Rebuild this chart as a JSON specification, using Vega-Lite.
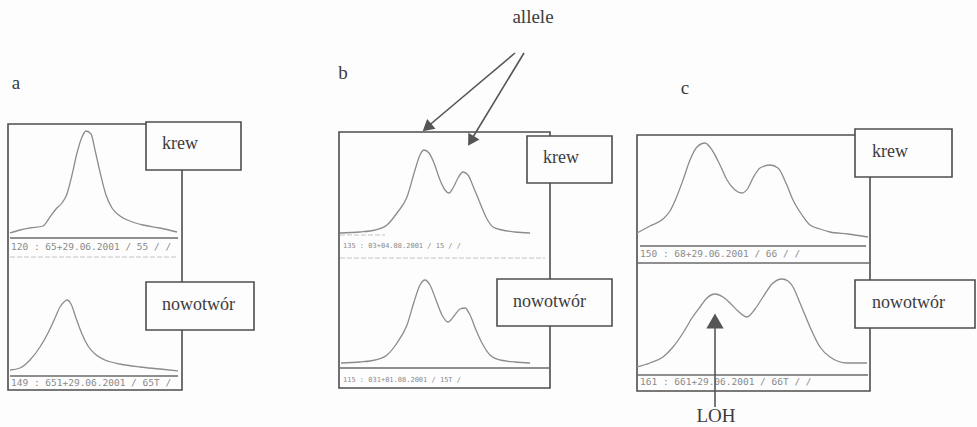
{
  "$schema": "https://vega.github.io/schema/vega-lite/v6.json",
  "width": 977,
  "height": 427,
  "autosize": {"type": "fit", "contains": "padding"},
  "padding": 0,
  "background": "#fdfdfd",
  "config": {"view": {"stroke": null}},
  "datasets": {
    "frames": [
      {"panel": "a", "x0": 8, "x1": 182, "y0": 124, "y1": 390},
      {"panel": "b", "x0": 339, "x1": 550, "y0": 132, "y1": 388},
      {"panel": "c", "x0": 637, "x1": 870, "y0": 135, "y1": 391}
    ],
    "rules": [
      {"x0": 10, "x1": 178, "y": 238},
      {"x0": 10, "x1": 178, "y": 376},
      {"x0": 340, "x1": 550, "y": 368},
      {"x0": 640, "x1": 866, "y": 246},
      {"x0": 637, "x1": 870, "y": 263},
      {"x0": 637, "x1": 868, "y": 375}
    ],
    "faintRules": [
      {"x0": 10, "x1": 178, "y": 257},
      {"x0": 340, "x1": 385, "y": 235},
      {"x0": 340, "x1": 545, "y": 258}
    ],
    "curves": [
      {"trace": "a1", "i": 1, "x": 10, "y": 233}, {"trace": "a1", "i": 2, "x": 20, "y": 230},
      {"trace": "a1", "i": 3, "x": 30, "y": 228}, {"trace": "a1", "i": 4, "x": 43, "y": 226},
      {"trace": "a1", "i": 5, "x": 50, "y": 217}, {"trace": "a1", "i": 6, "x": 56, "y": 209},
      {"trace": "a1", "i": 7, "x": 62, "y": 203}, {"trace": "a1", "i": 8, "x": 67, "y": 194},
      {"trace": "a1", "i": 9, "x": 72, "y": 175}, {"trace": "a1", "i": 10, "x": 77, "y": 153},
      {"trace": "a1", "i": 11, "x": 82, "y": 137}, {"trace": "a1", "i": 12, "x": 86, "y": 131},
      {"trace": "a1", "i": 13, "x": 91, "y": 134}, {"trace": "a1", "i": 14, "x": 95, "y": 150},
      {"trace": "a1", "i": 15, "x": 100, "y": 172}, {"trace": "a1", "i": 16, "x": 106, "y": 195},
      {"trace": "a1", "i": 17, "x": 112, "y": 208}, {"trace": "a1", "i": 18, "x": 120, "y": 216},
      {"trace": "a1", "i": 19, "x": 130, "y": 221}, {"trace": "a1", "i": 20, "x": 143, "y": 225},
      {"trace": "a1", "i": 21, "x": 160, "y": 228}, {"trace": "a1", "i": 22, "x": 177, "y": 232},

      {"trace": "a2", "i": 1, "x": 10, "y": 370}, {"trace": "a2", "i": 2, "x": 20, "y": 368},
      {"trace": "a2", "i": 3, "x": 30, "y": 360}, {"trace": "a2", "i": 4, "x": 40, "y": 347},
      {"trace": "a2", "i": 5, "x": 48, "y": 333}, {"trace": "a2", "i": 6, "x": 55, "y": 318},
      {"trace": "a2", "i": 7, "x": 60, "y": 307}, {"trace": "a2", "i": 8, "x": 64, "y": 302},
      {"trace": "a2", "i": 9, "x": 67, "y": 300}, {"trace": "a2", "i": 10, "x": 71, "y": 304},
      {"trace": "a2", "i": 11, "x": 76, "y": 318}, {"trace": "a2", "i": 12, "x": 82, "y": 334},
      {"trace": "a2", "i": 13, "x": 88, "y": 346}, {"trace": "a2", "i": 14, "x": 95, "y": 354},
      {"trace": "a2", "i": 15, "x": 105, "y": 360}, {"trace": "a2", "i": 16, "x": 120, "y": 364},
      {"trace": "a2", "i": 17, "x": 140, "y": 367}, {"trace": "a2", "i": 18, "x": 160, "y": 369},
      {"trace": "a2", "i": 19, "x": 178, "y": 371},

      {"trace": "b1", "i": 1, "x": 340, "y": 233}, {"trace": "b1", "i": 2, "x": 360, "y": 232},
      {"trace": "b1", "i": 3, "x": 375, "y": 230}, {"trace": "b1", "i": 4, "x": 387, "y": 225},
      {"trace": "b1", "i": 5, "x": 397, "y": 213}, {"trace": "b1", "i": 6, "x": 407, "y": 197},
      {"trace": "b1", "i": 7, "x": 415, "y": 170}, {"trace": "b1", "i": 8, "x": 420, "y": 155},
      {"trace": "b1", "i": 9, "x": 424, "y": 150}, {"trace": "b1", "i": 10, "x": 429, "y": 153},
      {"trace": "b1", "i": 11, "x": 434, "y": 163}, {"trace": "b1", "i": 12, "x": 440, "y": 180},
      {"trace": "b1", "i": 13, "x": 445, "y": 190}, {"trace": "b1", "i": 14, "x": 449, "y": 193},
      {"trace": "b1", "i": 15, "x": 453, "y": 188}, {"trace": "b1", "i": 16, "x": 458, "y": 178},
      {"trace": "b1", "i": 17, "x": 463, "y": 172}, {"trace": "b1", "i": 18, "x": 468, "y": 175},
      {"trace": "b1", "i": 19, "x": 473, "y": 186}, {"trace": "b1", "i": 20, "x": 480, "y": 203},
      {"trace": "b1", "i": 21, "x": 487, "y": 219}, {"trace": "b1", "i": 22, "x": 493, "y": 227},
      {"trace": "b1", "i": 23, "x": 502, "y": 230}, {"trace": "b1", "i": 24, "x": 515, "y": 232},
      {"trace": "b1", "i": 25, "x": 530, "y": 233},

      {"trace": "b2", "i": 1, "x": 341, "y": 363}, {"trace": "b2", "i": 2, "x": 360, "y": 362},
      {"trace": "b2", "i": 3, "x": 375, "y": 360}, {"trace": "b2", "i": 4, "x": 387, "y": 355},
      {"trace": "b2", "i": 5, "x": 397, "y": 343}, {"trace": "b2", "i": 6, "x": 407, "y": 325},
      {"trace": "b2", "i": 7, "x": 414, "y": 302}, {"trace": "b2", "i": 8, "x": 420, "y": 285},
      {"trace": "b2", "i": 9, "x": 425, "y": 280}, {"trace": "b2", "i": 10, "x": 430, "y": 285},
      {"trace": "b2", "i": 11, "x": 436, "y": 300}, {"trace": "b2", "i": 12, "x": 442, "y": 315},
      {"trace": "b2", "i": 13, "x": 448, "y": 322}, {"trace": "b2", "i": 14, "x": 454, "y": 316},
      {"trace": "b2", "i": 15, "x": 460, "y": 309}, {"trace": "b2", "i": 16, "x": 465, "y": 308},
      {"trace": "b2", "i": 17, "x": 470, "y": 315}, {"trace": "b2", "i": 18, "x": 476, "y": 330},
      {"trace": "b2", "i": 19, "x": 482, "y": 343}, {"trace": "b2", "i": 20, "x": 490, "y": 355},
      {"trace": "b2", "i": 21, "x": 500, "y": 360}, {"trace": "b2", "i": 22, "x": 515, "y": 362},
      {"trace": "b2", "i": 23, "x": 530, "y": 363},

      {"trace": "c1", "i": 1, "x": 637, "y": 233}, {"trace": "c1", "i": 2, "x": 650, "y": 226},
      {"trace": "c1", "i": 3, "x": 663, "y": 219}, {"trace": "c1", "i": 4, "x": 670, "y": 211},
      {"trace": "c1", "i": 5, "x": 677, "y": 196}, {"trace": "c1", "i": 6, "x": 683, "y": 180},
      {"trace": "c1", "i": 7, "x": 690, "y": 160}, {"trace": "c1", "i": 8, "x": 697, "y": 147},
      {"trace": "c1", "i": 9, "x": 705, "y": 143}, {"trace": "c1", "i": 10, "x": 712, "y": 150},
      {"trace": "c1", "i": 11, "x": 720, "y": 165}, {"trace": "c1", "i": 12, "x": 727, "y": 180},
      {"trace": "c1", "i": 13, "x": 735, "y": 190}, {"trace": "c1", "i": 14, "x": 742, "y": 193},
      {"trace": "c1", "i": 15, "x": 748, "y": 188}, {"trace": "c1", "i": 16, "x": 753, "y": 178},
      {"trace": "c1", "i": 17, "x": 760, "y": 168}, {"trace": "c1", "i": 18, "x": 770, "y": 165},
      {"trace": "c1", "i": 19, "x": 778, "y": 168}, {"trace": "c1", "i": 20, "x": 786, "y": 183},
      {"trace": "c1", "i": 21, "x": 793, "y": 200}, {"trace": "c1", "i": 22, "x": 802, "y": 215},
      {"trace": "c1", "i": 23, "x": 810, "y": 225}, {"trace": "c1", "i": 24, "x": 820, "y": 229},
      {"trace": "c1", "i": 25, "x": 830, "y": 232}, {"trace": "c1", "i": 26, "x": 848, "y": 234},
      {"trace": "c1", "i": 27, "x": 868, "y": 237},

      {"trace": "c2", "i": 1, "x": 637, "y": 367}, {"trace": "c2", "i": 2, "x": 650, "y": 363},
      {"trace": "c2", "i": 3, "x": 663, "y": 357}, {"trace": "c2", "i": 4, "x": 673, "y": 347},
      {"trace": "c2", "i": 5, "x": 683, "y": 333}, {"trace": "c2", "i": 6, "x": 692, "y": 318},
      {"trace": "c2", "i": 7, "x": 700, "y": 307}, {"trace": "c2", "i": 8, "x": 707, "y": 298},
      {"trace": "c2", "i": 9, "x": 715, "y": 294}, {"trace": "c2", "i": 10, "x": 723, "y": 297},
      {"trace": "c2", "i": 11, "x": 730, "y": 303}, {"trace": "c2", "i": 12, "x": 738, "y": 311},
      {"trace": "c2", "i": 13, "x": 747, "y": 317}, {"trace": "c2", "i": 14, "x": 755, "y": 309},
      {"trace": "c2", "i": 15, "x": 763, "y": 297}, {"trace": "c2", "i": 16, "x": 772, "y": 284},
      {"trace": "c2", "i": 17, "x": 782, "y": 279}, {"trace": "c2", "i": 18, "x": 788, "y": 281},
      {"trace": "c2", "i": 19, "x": 793, "y": 287}, {"trace": "c2", "i": 20, "x": 800, "y": 303},
      {"trace": "c2", "i": 21, "x": 810, "y": 327}, {"trace": "c2", "i": 22, "x": 820, "y": 347},
      {"trace": "c2", "i": 23, "x": 830, "y": 357}, {"trace": "c2", "i": 24, "x": 847, "y": 363},
      {"trace": "c2", "i": 25, "x": 867, "y": 363}
    ],
    "captions": [
      {"x": 11, "y": 247, "text": "120 : 65+29.06.2001 / 55 / /"},
      {"x": 11, "y": 383, "text": "149 : 651+29.06.2001 / 65T /"},
      {"x": 640, "y": 254, "text": "150 : 68+29.06.2001 / 66 / /"},
      {"x": 640, "y": 382, "text": "161 : 661+29.06.2001 / 66T / /"}
    ],
    "smallCaptions": [
      {"x": 343, "y": 246, "text": "135 : 03+04.08.2001 / 15 / /"},
      {"x": 343, "y": 380, "text": "115 : 031+01.08.2001 / 15T /"}
    ],
    "boxes": [
      {"x0": 146, "x1": 241, "y0": 122, "y1": 170, "tx": 162, "ty": 144, "label": "krew"},
      {"x0": 146, "x1": 254, "y0": 282, "y1": 330, "tx": 162, "ty": 305, "label": "nowotwór"},
      {"x0": 527, "x1": 612, "y0": 136, "y1": 183, "tx": 543, "ty": 158, "label": "krew"},
      {"x0": 497, "x1": 612, "y0": 279, "y1": 326, "tx": 513, "ty": 302, "label": "nowotwór"},
      {"x0": 855, "x1": 952, "y0": 129, "y1": 177, "tx": 872, "ty": 152, "label": "krew"},
      {"x0": 855, "x1": 975, "y0": 280, "y1": 328, "tx": 872, "ty": 303, "label": "nowotwór"}
    ],
    "titles": [
      {"x": 16, "y": 83, "text": "a"},
      {"x": 343, "y": 73, "text": "b"},
      {"x": 685, "y": 88, "text": "c"},
      {"x": 533, "y": 17, "text": "allele"},
      {"x": 716, "y": 416, "text": "LOH"}
    ],
    "arrows": [
      {"id": "allele1", "x0": 515, "y0": 53, "x1": 426, "y1": 128},
      {"id": "allele2", "x0": 524, "y0": 53, "x1": 470, "y1": 142},
      {"id": "loh", "x0": 715, "y0": 407, "x1": 715, "y1": 328}
    ],
    "heads": [
      {"id": "allele1", "x": 427, "y": 127.5},
      {"id": "allele2", "x": 471, "y": 141},
      {"id": "loh", "x": 715, "y": 321}
    ]
  },
  "encoding": {
    "x": {"field": "x", "type": "quantitative", "scale": {"domain": [0, 977], "nice": false, "zero": false}, "axis": null},
    "y": {"field": "y", "type": "quantitative", "scale": {"domain": [0, 427], "nice": false, "zero": false, "reverse": true}, "axis": null}
  },
  "layer": [
    {
      "data": {"name": "frames"},
      "mark": {"type": "rect", "fill": null, "stroke": "#4d4d4d", "strokeWidth": 1.6},
      "encoding": {
        "x": {"field": "x0", "type": "quantitative"},
        "x2": {"field": "x1"},
        "y": {"field": "y0", "type": "quantitative"},
        "y2": {"field": "y1"}
      }
    },
    {
      "data": {"name": "rules"},
      "mark": {"type": "rule", "stroke": "#6a6a6a", "strokeWidth": 1.4},
      "encoding": {
        "x": {"field": "x0", "type": "quantitative"},
        "x2": {"field": "x1"},
        "y": {"field": "y", "type": "quantitative"}
      }
    },
    {
      "data": {"name": "faintRules"},
      "mark": {"type": "rule", "stroke": "#c4c4c4", "strokeWidth": 1, "strokeDash": [5, 2]},
      "encoding": {
        "x": {"field": "x0", "type": "quantitative"},
        "x2": {"field": "x1"},
        "y": {"field": "y", "type": "quantitative"}
      }
    },
    {
      "data": {"name": "curves"},
      "mark": {"type": "line", "interpolate": "monotone", "stroke": "#8c8c8c", "strokeWidth": 1.3},
      "encoding": {
        "detail": {"field": "trace", "type": "nominal"},
        "order": {"field": "i", "type": "quantitative"}
      }
    },
    {
      "data": {"name": "captions"},
      "mark": {"type": "text", "align": "left", "baseline": "middle", "font": "DejaVu Sans Mono", "fontSize": 9.5, "fill": "#8a8a8a"},
      "encoding": {"text": {"field": "text"}}
    },
    {
      "data": {"name": "smallCaptions"},
      "mark": {"type": "text", "align": "left", "baseline": "middle", "font": "DejaVu Sans Mono", "fontSize": 7, "fill": "#8a8a8a"},
      "encoding": {"text": {"field": "text"}}
    },
    {
      "data": {"name": "boxes"},
      "mark": {"type": "rect", "fill": "#fdfdfd", "stroke": "#4d4d4d", "strokeWidth": 1.6},
      "encoding": {
        "x": {"field": "x0", "type": "quantitative"},
        "x2": {"field": "x1"},
        "y": {"field": "y0", "type": "quantitative"},
        "y2": {"field": "y1"}
      }
    },
    {
      "data": {"name": "boxes"},
      "mark": {"type": "text", "align": "left", "baseline": "middle", "font": "Liberation Serif", "fontSize": 18, "fill": "#3c3c3c"},
      "encoding": {
        "x": {"field": "tx", "type": "quantitative"},
        "y": {"field": "ty", "type": "quantitative"},
        "text": {"field": "label"}
      }
    },
    {
      "data": {"name": "titles"},
      "mark": {"type": "text", "align": "center", "baseline": "middle", "font": "Liberation Serif", "fontSize": 19, "fill": "#3c3c3c"},
      "encoding": {"text": {"field": "text"}}
    },
    {
      "data": {"name": "arrows"},
      "mark": {"type": "rule", "stroke": "#555555", "strokeWidth": 1.6},
      "encoding": {
        "x": {"field": "x0", "type": "quantitative"},
        "y": {"field": "y0", "type": "quantitative"},
        "x2": {"field": "x1"},
        "y2": {"field": "y1"}
      }
    },
    {
      "data": {"name": "heads"},
      "transform": [{"filter": "datum.id === 'allele1'"}],
      "mark": {"type": "point", "shape": "triangle-up", "filled": true, "color": "#555555", "size": 170, "angle": 230, "opacity": 1}
    },
    {
      "data": {"name": "heads"},
      "transform": [{"filter": "datum.id === 'allele2'"}],
      "mark": {"type": "point", "shape": "triangle-up", "filled": true, "color": "#555555", "size": 170, "angle": 211, "opacity": 1}
    },
    {
      "data": {"name": "heads"},
      "transform": [{"filter": "datum.id === 'loh'"}],
      "mark": {"type": "point", "shape": "triangle-up", "filled": true, "color": "#555555", "size": 300, "angle": 0, "opacity": 1}
    }
  ]
}
